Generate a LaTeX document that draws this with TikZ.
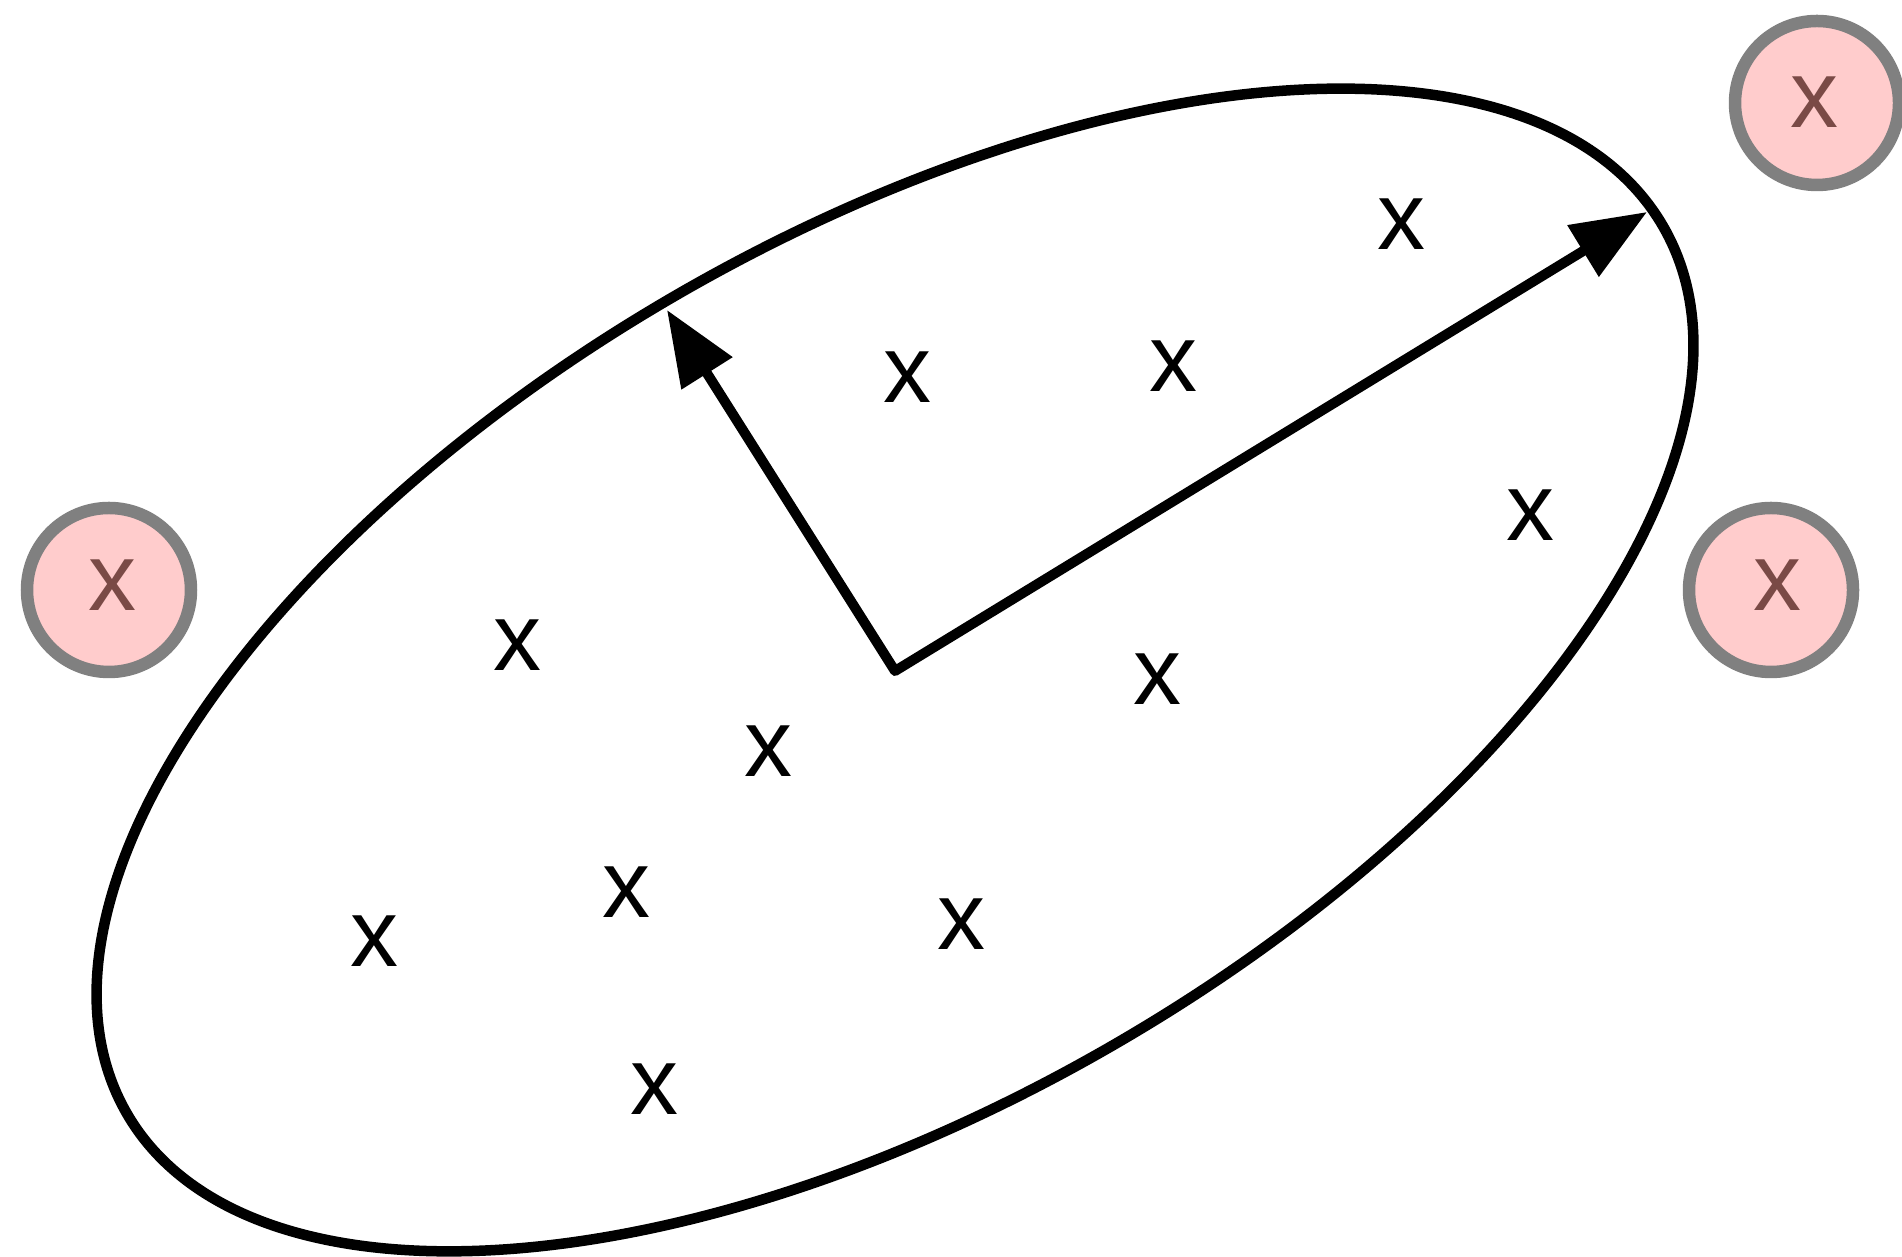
\documentclass[tikz,border=0pt]{standalone}
\usepackage{fontspec}
\setmainfont{Liberation Sans}
\usetikzlibrary{arrows.meta}
\definecolor{pinkfill}{RGB}{255,204,204}
\definecolor{ringgray}{RGB}{128,128,128}
\definecolor{xbrown}{RGB}{122,74,70}
\begin{document}
\begin{tikzpicture}[x=1pt,y=1pt,
  pt/.style={inner sep=0pt, font=\fontsize{96}{100}\selectfont},
  outlier/.style={circle, draw=ringgray, fill=pinkfill, line width=12.5pt, minimum size=164pt, inner sep=0pt},
  outtext/.style={pt, text=xbrown},
  axisline/.style={line width=10pt, line join=round, {Triangle[length=75pt,width=58pt]}-{Triangle[length=75pt,width=58pt]}},
  ellline/.style={line width=10.5pt}
]
\useasboundingbox (0,0) rectangle (1902,1257);
\fill[white] (0,0) rectangle (1902,1257);

% ellipse
\coordinate (ec) at (895,587);
\draw[ellline, rotate around={30:(ec)}] (ec) ellipse [x radius=887pt, y radius=434pt];

% principal axes
\coordinate (v) at (895,586);
\coordinate (majtip) at (1647,1045);
\coordinate (mintip) at (667,947);
\draw[axisline] (mintip) -- (v) -- (majtip);

% inliers
\node[pt] (p1) at (1401,1033) {x};
\node[pt] (p2) at (907,880) {x};
\node[pt] (p3) at (1173,891) {x};
\node[pt] (p4) at (1530,742) {x};
\node[pt] (p5) at (517,612) {x};
\node[pt] (p6) at (1157,578) {x};
\node[pt] (p7) at (768,506) {x};
\node[pt] (p8) at (626,365) {x};
\node[pt] (p9) at (374,316) {x};
\node[pt] (p10) at (961,333) {x};
\node[pt] (p11) at (654,168) {x};

% outliers
\node[outlier] (c1) at (109,667) {};
\node[outtext] (o1) at (112,672) {x};
\node[outlier] (c2) at (1771,667) {};
\node[outtext] (o2) at (1777.5,672) {x};
\node[outlier] (c3) at (1817,1154) {};
\node[outtext] (o3) at (1814.5,1155) {x};
\end{tikzpicture}
\end{document}
